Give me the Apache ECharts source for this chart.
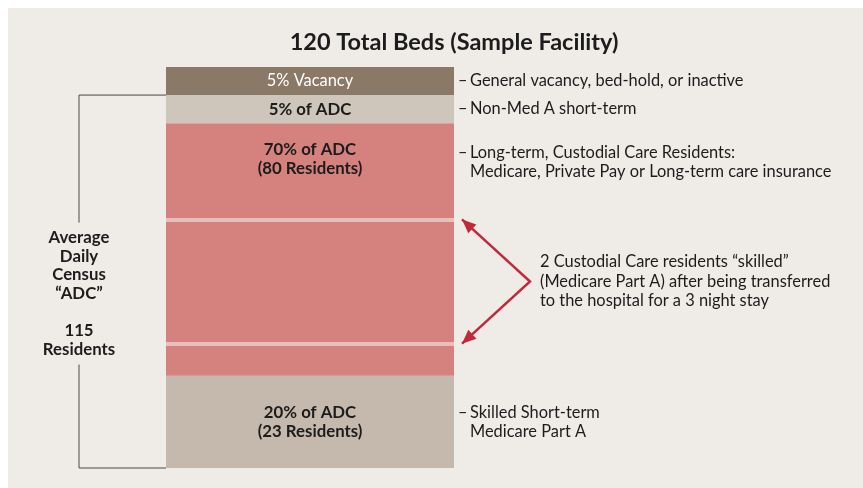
<!DOCTYPE html>
<html>
<head>
<meta charset="utf-8">
<title>120 Total Beds (Sample Facility)</title>
<script src="https://cdn.jsdelivr.net/npm/echarts@6/dist/echarts.min.js"></script>
<style>
    html, body { margin: 0; padding: 0; background: #ffffff; }
    #chart { position: absolute; left: 8px; top: 8px; width: 855px; height: 480px; }
</style>
</head>
<body>
<div id="chart"></div>
<script>
// one stacked column, segments listed bottom to top (heights as drawn in the figure)
const categories = ["Beds"];
const segmentNames = ["Skilled Short-term", "Long-term Custodial", "Non-Med A short-term", "Vacancy"];
const segmentValues = [23, 63, 7, 7];
const segmentLabels = ["20% of ADC\n(23 Residents)", "70% of ADC\n(80 Residents)", "5% of ADC", "5% Vacancy"];
const segmentColors = ["#c4b9ac", "#d5827f", "#cfc6bb", "#8b7968"];
const sideNotes = [
    ["Skilled Short-term", "Medicare Part A"],
    ["Long-term, Custodial Care Residents:", "Medicare, Private Pay or Long-term care insurance"],
    ["Non-Med A short-term"],
    ["General vacancy, bed-hold, or inactive"]
];
// levels of the two "skilled" residents inside the long-term block
const stripeLevels = [31, 62];
const arrowNote = [
    "2 Custodial Care residents \u201cskilled\u201d",
    "(Medicare Part A) after being transferred",
    "to the hospital for a 3 night stay"
];
const bracketLines = ["Average", "Daily", "Census", "\u201cADC\u201d", "", "115", "Residents"];
const titleText = "120 Total Beds (Sample Facility)";

const FONT = "Lato, 'Noto Sans', sans-serif";
const INK = "#1c1c1c";
const ARROW = "#c22a3b";
const NOTE_SIZE = 16.4;
const BOLD_SIZE = 16.8;

const chart = echarts.init(document.getElementById("chart"));

const labelStyles = [
    { position: "inside", color: INK, fontWeight: "bold" },
    { position: "insideTop", distance: 17, color: INK, fontWeight: "bold" },
    { position: "inside", color: INK, fontWeight: "bold" },
    { position: "inside", color: "#ffffff", fontWeight: "normal", fontSize: 16.4 }
];

const series = segmentNames.map((name, i) => {
    const s = {
        name: name,
        type: "bar",
        stack: "beds",
        barWidth: "100%",
        silent: true,
        animation: false,
        data: [segmentValues[i]],
        itemStyle: { color: segmentColors[i] },
        label: Object.assign({
            show: true,
            formatter: segmentLabels[i],
            fontFamily: FONT,
            fontSize: BOLD_SIZE,
            lineHeight: 19,
            align: "center"
        }, labelStyles[i])
    };
    if (i === 1) {
        s.markLine = {
            silent: true,
            symbol: "none",
            label: { show: false },
            lineStyle: { color: "#eabfbb", width: 4, type: "solid" },
            data: stripeLevels.map(v => ({ yAxis: v }))
        };
    }
    return s;
});

chart.setOption({
    backgroundColor: "#efebe7",
    animation: false,
    grid: { left: 158, top: 59, width: 288, bottom: 20 },
    xAxis: { type: "category", data: categories, show: false },
    yAxis: { type: "value", min: 0, max: 100, show: false },
    series: series
});

// annotations placed from the axis scale
const py = v => chart.convertToPixel({ yAxisIndex: 0 }, v);
const barLeft = 158;
const barRight = 158 + 288;
const bottoms = [];
segmentValues.reduce((acc, v) => { bottoms.push(acc); return acc + v; }, 0);

const graphics = [];
const txt = (x, y, text, extra) => Object.assign({
    type: "text",
    x: x,
    y: y,
    silent: true,
    style: Object.assign({
        text: text,
        fill: INK,
        font: NOTE_SIZE + "px " + FONT,
        verticalAlign: "middle",
        align: "left"
    }, extra || {})
});

graphics.push(txt(446, 34, titleText, { font: "bold 23.5px " + FONT, align: "center" }));

// notes on the right of each segment
sideNotes.forEach((lines, i) => {
    const top = py(bottoms[i] + segmentValues[i]);
    const mid = py(bottoms[i] + segmentValues[i] / 2);
    const firstY = i === 1 ? top + 30 : mid - (lines.length - 1) * 19 / 2;
    lines.forEach((line, k) => {
        const y = firstY + k * 19;
        if (k === 0) graphics.push(txt(barRight + 4, y, "\u2013"));
        graphics.push(txt(barRight + 16, y, line));
    });
});

// left bracket for the average daily census
const bx = 71;
const bTop = py(bottoms[3]);
const bBottom = py(0);
const textMid = (bTop + bBottom) / 2 + 12;
const lineStyle = { stroke: "#4a4a4a", lineWidth: 1 };
[
    [bx, bTop, barLeft, bTop],
    [bx, bBottom, barLeft, bBottom],
    [bx, bTop, bx, textMid - 71],
    [bx, textMid + 71, bx, bBottom]
].forEach(s => graphics.push({
    type: "line", silent: true,
    shape: { x1: s[0], y1: s[1], x2: s[2], y2: s[3] },
    style: lineStyle
}));
graphics.push(txt(bx, textMid, bracketLines.join("\n"), {
    font: "bold " + BOLD_SIZE + "px " + FONT, align: "center", lineHeight: 18.7
}));

// double arrow pointing at the two stripes
const tipX = barRight + 8;
const tips = stripeLevels.map(v => [tipX, py(v)]).reverse();
const vertex = [522, (tips[0][1] + tips[1][1]) / 2];
graphics.push({
    type: "polyline", silent: true,
    shape: { points: [tips[0], vertex, tips[1]] },
    style: { stroke: ARROW, lineWidth: 2.5, fill: null }
});
tips.forEach(t => {
    const dx = t[0] - vertex[0], dy = t[1] - vertex[1];
    const len = Math.sqrt(dx * dx + dy * dy);
    const ux = dx / len, uy = dy / len;
    const bxp = t[0] - ux * 14, byp = t[1] - uy * 14;
    graphics.push({
        type: "polygon", silent: true,
        shape: { points: [t, [bxp - uy * 6, byp + ux * 6], [bxp + uy * 6, byp - ux * 6]] },
        style: { fill: ARROW }
    });
});
graphics.push(txt(532, vertex[1], arrowNote.join("\n"), { lineHeight: 19.5 }));

chart.setOption({ graphic: graphics });
</script>
</body>
</html>
